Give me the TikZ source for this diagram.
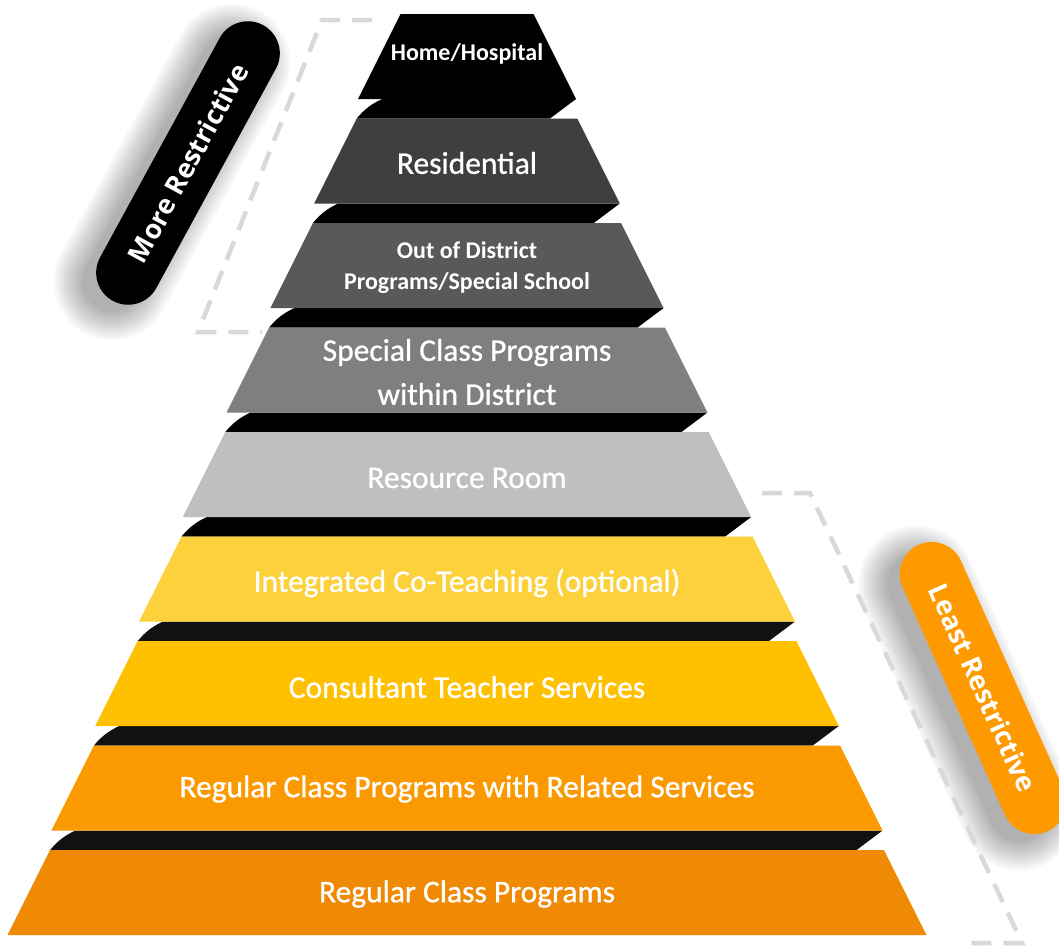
\documentclass[tikz,border=0pt]{standalone}
\usepackage{fontspec}
\setmainfont{Carlito}
\newfontfamily\lvlfont[FakeBold=0.8]{Carlito}
\newfontfamily\pillfont{Open Sans}
\definecolor{levA}{HTML}{000000}
\definecolor{levB}{HTML}{3F3F3F}
\definecolor{levC}{HTML}{595959}
\definecolor{levD}{HTML}{7F7F7F}
\definecolor{levE}{HTML}{BFBFBF}
\definecolor{levF}{HTML}{FDD13C}
\definecolor{levG}{HTML}{FFC000}
\definecolor{levH}{HTML}{FB9A00}
\definecolor{levI}{HTML}{F08A04}
\definecolor{bandK}{HTML}{000000}
\definecolor{bandY}{HTML}{111111}
\definecolor{pillorange}{HTML}{FF9900}
\definecolor{dashgray}{HTML}{D9D9D9}

\newcommand{\pyrlevel}[2]{%
  \pgfmathsetmacro\lyt{14+104.5*#1}%
  \pgfmathsetmacro\lyb{\lyt+85}%
  \pgfmathsetmacro\lht{66.5+43.8*#1}%
  \pgfmathsetmacro\lhb{\lht+42.5}%
  \fill[#2] ({467-\lht},\lyt) -- ({467+\lht},\lyt) -- ({467+\lhb},\lyb) -- ({467-\lhb},\lyb) -- cycle;%
}
\newcommand{\pyrband}[2]{%
  \pgfmathsetmacro\byb{14+104.5*#1+85}%
  \pgfmathsetmacro\byt{14+104.5*(#1+1)}%
  \pgfmathsetmacro\bhb{66.5+43.8*#1+42.5}%
  \pgfmathsetmacro\bhn{66.5+43.8*(#1+1)}%
  \fill[#2] ({467-\bhb+24},\byb) -- ({467+\bhb},\byb) -- ({467+\bhb-26},\byt) -- ({467-\bhn},\byt) to[bend left=12] cycle;%
}
% soft shadow: centre x, centre y, angle
\newcommand{\softshadow}[3]{%
  \foreach \k in {0,...,11}{%
    \pgfmathsetmacro\sr{30+2.6*\k}%
    \pgfmathsetmacro\sl{155+2.6*\k}%
    \fill[black, opacity=0.028, rounded corners=\sr pt, rotate around={#3:(#1,#2)}]
      ({#1-\sl},{#2-\sr}) rectangle ({#1+\sl},{#2+\sr});
  }%
}

\begin{document}
\begin{tikzpicture}[x=1pt,y=-1pt,
  lvltext/.style={text=white, font=\lvlfont\fontsize{31.5}{44}\selectfont, align=center, inner sep=0pt},
  smalltext/.style={text=white, font=\bfseries\fontsize{24}{31}\selectfont, align=center, inner sep=0pt},
  pill/.style={rounded corners=32pt, minimum width=314pt, minimum height=64pt, text=white,
    font=\pillfont\bfseries\fontsize{27}{30}\selectfont, inner sep=0pt},
  bracket/.style={draw=dashgray, line width=4.5pt, dash pattern=on 20pt off 12pt}]
\useasboundingbox[fill=white] (0,0) rectangle (1059,945);

% shadows of the labels
\softshadow{172}{172}{61.4}
\softshadow{968}{698}{-65.8}

% labels
\node[pill, fill=black, rotate=61.4] (more) at (188,163) {More Restrictive};
\node[pill, fill=pillorange, rotate=-65.8] (least) at (983,688) {Least Restrictive};

% dashed brackets
\coordinate (lb1) at (372,20);
\coordinate (lb2) at (322,20);
\coordinate (lb3) at (198,332);
\coordinate (lb4) at (262,332);
\draw[bracket] (lb1) -- (lb2) -- (lb3) -- (lb4);
\coordinate (rb1) at (762,493);
\coordinate (rb2) at (810,493);
\coordinate (rb3) at (1022,943);
\coordinate (rb4) at (966,943);
\draw[bracket] (rb1) -- (rb2) -- (rb3) -- (rb4);

% bands
\pyrband{0}{bandK}
\pyrband{1}{bandK}
\pyrband{2}{bandK}
\pyrband{3}{bandK}
\pyrband{4}{bandK}
\pyrband{5}{bandY}
\pyrband{6}{bandY}
\pyrband{7}{bandY}

% levels
\pyrlevel{0}{levA}
\pyrlevel{1}{levB}
\pyrlevel{2}{levC}
\pyrlevel{3}{levD}
\pyrlevel{4}{levE}
\pyrlevel{5}{levF}
\pyrlevel{6}{levG}
\pyrlevel{7}{levH}
\pyrlevel{8}{levI}

% texts
\node[smalltext] (t0) at (467,54) {Home/Hospital};
\node[lvltext] (t1) at (467,163) {Residential};
\node[smalltext] (t2) at (467,268) {Out of District\\Programs/Special School};
\node[lvltext] (t3) at (467,372) {Special Class Programs\\within District};
\node[lvltext] (t4) at (467,478) {Resource Room};
\node[lvltext] (t5) at (467,583) {Integrated Co-Teaching (optional)};
\node[lvltext] (t6) at (467,687) {Consultant Teacher Services};
\node[lvltext] (t7) at (467,789) {Regular Class Programs with Related Services};
\node[lvltext] (t8) at (467,894) {Regular Class Programs};
\end{tikzpicture}
\end{document}
